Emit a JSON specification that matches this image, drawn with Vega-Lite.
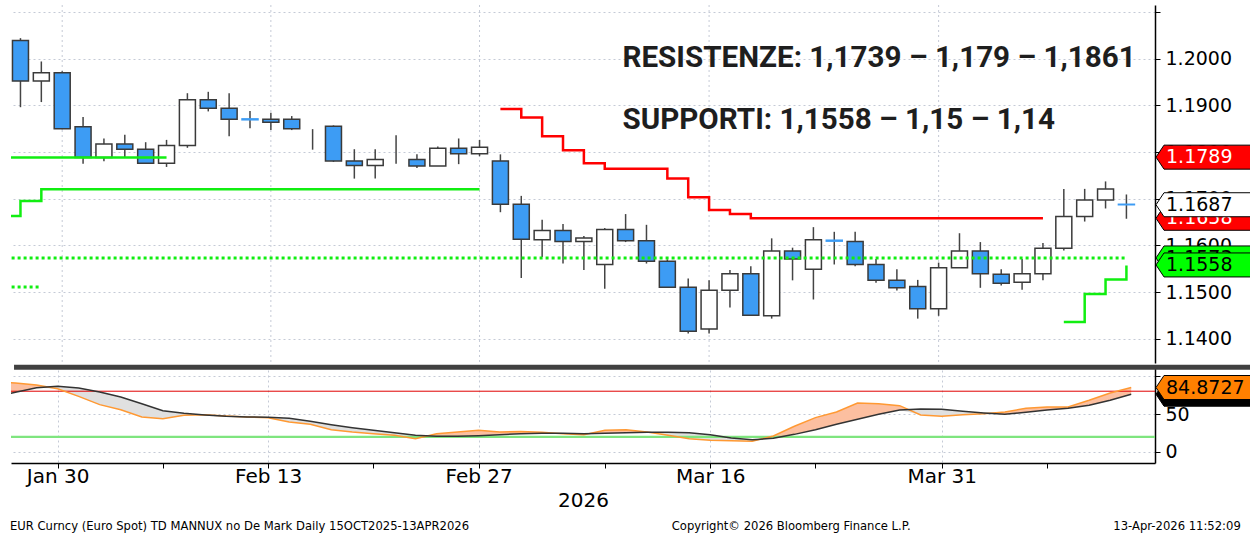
{
  "$schema": "https://vega.github.io/schema/vega-lite/v6.json",
  "background": "white",
  "padding": {"left": 9, "top": 3, "right": 0, "bottom": 0},
  "spacing": 0,
  "resolve": {"scale": {"fill": "independent", "color": "independent", "stroke": "independent"}},
  "config": {"view": {"stroke": null}, "font": "DejaVu Sans"},
  "datasets": {
    "candles": [
      {"d": "2026-01-28", "i": 0, "o": 1.2039, "h": 1.2044, "l": 1.1896, "c": 1.1952},
      {"d": "2026-01-29", "i": 1, "o": 1.1952, "h": 1.1994, "l": 1.1907, "c": 1.1970},
      {"d": "2026-01-30", "i": 2, "o": 1.1970, "h": 1.1973, "l": 1.1849, "c": 1.1850},
      {"d": "2026-02-02", "i": 3, "o": 1.1854, "h": 1.1875, "l": 1.1775, "c": 1.1788},
      {"d": "2026-02-03", "i": 4, "o": 1.1788, "h": 1.1829, "l": 1.1780, "c": 1.1817},
      {"d": "2026-02-04", "i": 5, "o": 1.1817, "h": 1.1837, "l": 1.1789, "c": 1.1806},
      {"d": "2026-02-05", "i": 6, "o": 1.1806, "h": 1.1821, "l": 1.1775, "c": 1.1776},
      {"d": "2026-02-06", "i": 7, "o": 1.1776, "h": 1.1826, "l": 1.1768, "c": 1.1814},
      {"d": "2026-02-09", "i": 8, "o": 1.1814, "h": 1.1926, "l": 1.1809, "c": 1.1912},
      {"d": "2026-02-10", "i": 9, "o": 1.1912, "h": 1.1929, "l": 1.1887, "c": 1.1894},
      {"d": "2026-02-11", "i": 10, "o": 1.1894, "h": 1.1926, "l": 1.1834, "c": 1.1870},
      {"d": "2026-02-12", "i": 11, "o": 1.1871, "h": 1.1888, "l": 1.1851, "c": 1.1869},
      {"d": "2026-02-13", "i": 12, "o": 1.1870, "h": 1.1884, "l": 1.1847, "c": 1.1864},
      {"d": "2026-02-16", "i": 13, "o": 1.1870, "h": 1.1877, "l": 1.1847, "c": 1.1850},
      {"d": "2026-02-17", "i": 14, "o": 1.1806, "h": 1.1849, "l": 1.1805, "c": 1.1806},
      {"d": "2026-02-18", "i": 15, "o": 1.1855, "h": 1.1857, "l": 1.1779, "c": 1.1781},
      {"d": "2026-02-19", "i": 16, "o": 1.1781, "h": 1.1806, "l": 1.1743, "c": 1.1771},
      {"d": "2026-02-20", "i": 17, "o": 1.1771, "h": 1.1806, "l": 1.1743, "c": 1.1784},
      {"d": "2026-02-23", "i": 18, "o": 1.1782, "h": 1.1836, "l": 1.1775, "c": 1.1782},
      {"d": "2026-02-24", "i": 19, "o": 1.1784, "h": 1.1795, "l": 1.1766, "c": 1.1770},
      {"d": "2026-02-25", "i": 20, "o": 1.1770, "h": 1.1812, "l": 1.1770, "c": 1.1808},
      {"d": "2026-02-26", "i": 21, "o": 1.1808, "h": 1.1829, "l": 1.1774, "c": 1.1796},
      {"d": "2026-02-27", "i": 22, "o": 1.1796, "h": 1.1826, "l": 1.1791, "c": 1.1810},
      {"d": "2026-03-02", "i": 23, "o": 1.1781, "h": 1.1795, "l": 1.1671, "c": 1.1688},
      {"d": "2026-03-03", "i": 24, "o": 1.1688, "h": 1.1706, "l": 1.1530, "c": 1.1613},
      {"d": "2026-03-04", "i": 25, "o": 1.1612, "h": 1.1655, "l": 1.1575, "c": 1.1632},
      {"d": "2026-03-05", "i": 26, "o": 1.1632, "h": 1.1646, "l": 1.1561, "c": 1.1608},
      {"d": "2026-03-06", "i": 27, "o": 1.1608, "h": 1.1620, "l": 1.1547, "c": 1.1616},
      {"d": "2026-03-09", "i": 28, "o": 1.1559, "h": 1.1637, "l": 1.1507, "c": 1.1634},
      {"d": "2026-03-10", "i": 29, "o": 1.1634, "h": 1.1667, "l": 1.1607, "c": 1.1610},
      {"d": "2026-03-11", "i": 30, "o": 1.1610, "h": 1.1644, "l": 1.1561, "c": 1.1566},
      {"d": "2026-03-12", "i": 31, "o": 1.1566, "h": 1.1570, "l": 1.1509, "c": 1.1510},
      {"d": "2026-03-13", "i": 32, "o": 1.1510, "h": 1.1529, "l": 1.1411, "c": 1.1416},
      {"d": "2026-03-16", "i": 33, "o": 1.1421, "h": 1.1525, "l": 1.1411, "c": 1.1504},
      {"d": "2026-03-17", "i": 34, "o": 1.1504, "h": 1.1547, "l": 1.1467, "c": 1.1539},
      {"d": "2026-03-18", "i": 35, "o": 1.1539, "h": 1.1555, "l": 1.1449, "c": 1.1450},
      {"d": "2026-03-19", "i": 36, "o": 1.1449, "h": 1.1615, "l": 1.1443, "c": 1.1588},
      {"d": "2026-03-20", "i": 37, "o": 1.1588, "h": 1.1595, "l": 1.1525, "c": 1.1571},
      {"d": "2026-03-23", "i": 38, "o": 1.1549, "h": 1.1639, "l": 1.1484, "c": 1.1612},
      {"d": "2026-03-24", "i": 39, "o": 1.1611, "h": 1.1629, "l": 1.1559, "c": 1.1609},
      {"d": "2026-03-25", "i": 40, "o": 1.1608, "h": 1.1629, "l": 1.1555, "c": 1.1559},
      {"d": "2026-03-26", "i": 41, "o": 1.1559, "h": 1.1571, "l": 1.1520, "c": 1.1525},
      {"d": "2026-03-27", "i": 42, "o": 1.1525, "h": 1.1549, "l": 1.1503, "c": 1.1509},
      {"d": "2026-03-30", "i": 43, "o": 1.1512, "h": 1.1526, "l": 1.1443, "c": 1.1464},
      {"d": "2026-03-31", "i": 44, "o": 1.1464, "h": 1.1563, "l": 1.1449, "c": 1.1552},
      {"d": "2026-04-01", "i": 45, "o": 1.1552, "h": 1.1626, "l": 1.1552, "c": 1.1588},
      {"d": "2026-04-02", "i": 46, "o": 1.1588, "h": 1.1607, "l": 1.1509, "c": 1.1539},
      {"d": "2026-04-03", "i": 47, "o": 1.1538, "h": 1.1549, "l": 1.1514, "c": 1.1519},
      {"d": "2026-04-06", "i": 48, "o": 1.1521, "h": 1.1571, "l": 1.1505, "c": 1.1539},
      {"d": "2026-04-07", "i": 49, "o": 1.1539, "h": 1.1605, "l": 1.1525, "c": 1.1594},
      {"d": "2026-04-08", "i": 50, "o": 1.1594, "h": 1.1721, "l": 1.1589, "c": 1.1662},
      {"d": "2026-04-09", "i": 51, "o": 1.1662, "h": 1.1721, "l": 1.1651, "c": 1.1697},
      {"d": "2026-04-10", "i": 52, "o": 1.1697, "h": 1.1737, "l": 1.1679, "c": 1.1721},
      {"d": "2026-04-13", "i": 53, "o": 1.1688, "h": 1.1709, "l": 1.1657, "c": 1.1687}
    ],
    "levels": [
      {"s": "g1", "i": -1, "p": 1.1788}, {"s": "g1", "i": 7, "p": 1.1788},
      {"s": "g2", "i": -1, "p": 1.1663}, {"s": "g2", "i": 0, "p": 1.1695}, {"s": "g2", "i": 1, "p": 1.1720}, {"s": "g2", "i": 22, "p": 1.1720},
      {"s": "g3", "i": 50, "p": 1.1436}, {"s": "g3", "i": 51, "p": 1.1496}, {"s": "g3", "i": 52, "p": 1.1527}, {"s": "g3", "i": 53, "p": 1.1557},
      {"s": "d1", "i": -1, "p": 1.1573}, {"s": "d1", "i": 53, "p": 1.1573},
      {"s": "d2", "i": -1, "p": 1.1511}, {"s": "d2", "i": 1, "p": 1.1511},
      {"s": "red", "i": 23, "p": 1.1892}, {"s": "red", "i": 24, "p": 1.1874}, {"s": "red", "i": 25, "p": 1.1834},
      {"s": "red", "i": 26, "p": 1.1804}, {"s": "red", "i": 27, "p": 1.1776}, {"s": "red", "i": 28, "p": 1.1764},
      {"s": "red", "i": 31, "p": 1.1743}, {"s": "red", "i": 32, "p": 1.1703}, {"s": "red", "i": 33, "p": 1.1676},
      {"s": "red", "i": 34, "p": 1.1667}, {"s": "red", "i": 35, "p": 1.1658}, {"s": "red", "i": 49, "p": 1.1658}
    ],
    "notes": [
      {"t": "RESISTENZE: 1,1739 – 1,179 – 1,1861", "i": 28.85, "p": 1.1982},
      {"t": "SUPPORTI: 1,1558 – 1,15 – 1,14", "i": 28.85, "p": 1.1850}
    ],
    "vgrid": [{"i": 2}, {"i": 12}, {"i": 22}, {"i": 33}, {"i": 44}],
    "bands": [{"level": 80, "zone": "overbought"}, {"level": 20, "zone": "oversold"}],
    "ptags": [
      {"tag": "1.1658", "p": 1.1658, "s": "res", "z": "back"},
      {"tag": "1.1573", "p": 1.1573, "s": "sup", "z": "back"},
      {"tag": "1.1789", "p": 1.1789, "s": "res", "z": "front"},
      {"tag": "1.1687", "p": 1.1687, "s": "last", "z": "front"},
      {"tag": "1.1558", "p": 1.1558, "s": "sup", "z": "front"}
    ],
    "stags": [
      {"tag": "76.0498", "v": 76.0498, "s": "d", "z": "back"},
      {"tag": "84.8727", "v": 84.8727, "s": "k", "z": "front"}
    ],
    "stoch": [
      {"i": -1, "k": 93, "d": 73}, {"i": 0, "k": 90.8, "d": 78.5}, {"i": 1, "k": 88.2, "d": 84.6},
      {"i": 2, "k": 83.3, "d": 86.4}, {"i": 3, "k": 73.2, "d": 84.2}, {"i": 4, "k": 62.3, "d": 78.9},
      {"i": 5, "k": 55.7, "d": 72.4}, {"i": 6, "k": 46.1, "d": 63.6}, {"i": 7, "k": 43.9, "d": 54.4},
      {"i": 8, "k": 48.2, "d": 50.9}, {"i": 9, "k": 49.1, "d": 48.7}, {"i": 10, "k": 47.4, "d": 46.9},
      {"i": 11, "k": 46.1, "d": 46.1}, {"i": 12, "k": 45.2, "d": 45.6}, {"i": 13, "k": 39.5, "d": 44.3},
      {"i": 14, "k": 36.4, "d": 40.4}, {"i": 15, "k": 29.4, "d": 36.0}, {"i": 16, "k": 26.3, "d": 32.0},
      {"i": 17, "k": 24.1, "d": 28.5}, {"i": 18, "k": 21.9, "d": 25.4}, {"i": 19, "k": 17.5, "d": 21.9},
      {"i": 20, "k": 24.1, "d": 20.6}, {"i": 21, "k": 26.3, "d": 20.6}, {"i": 22, "k": 28.5, "d": 21.5},
      {"i": 23, "k": 26.3, "d": 22.8}, {"i": 24, "k": 26.8, "d": 24.1}, {"i": 25, "k": 25.9, "d": 24.6},
      {"i": 26, "k": 24.1, "d": 24.6}, {"i": 27, "k": 22.8, "d": 24.1}, {"i": 28, "k": 28.5, "d": 24.6},
      {"i": 29, "k": 29.4, "d": 25.4}, {"i": 30, "k": 26.3, "d": 25.9}, {"i": 31, "k": 21.9, "d": 25.9},
      {"i": 32, "k": 17.5, "d": 25.4}, {"i": 33, "k": 15.4, "d": 22.8}, {"i": 34, "k": 14.9, "d": 18.4},
      {"i": 35, "k": 14.0, "d": 16.2}, {"i": 36, "k": 21.1, "d": 18.0}, {"i": 37, "k": 33.8, "d": 23.2},
      {"i": 38, "k": 45.2, "d": 29.4}, {"i": 39, "k": 52.6, "d": 36.4}, {"i": 40, "k": 64.5, "d": 43.0},
      {"i": 41, "k": 63.6, "d": 49.6}, {"i": 42, "k": 61.0, "d": 55.3}, {"i": 43, "k": 48.7, "d": 56.6},
      {"i": 44, "k": 46.9, "d": 56.1}, {"i": 45, "k": 49.1, "d": 53.5}, {"i": 46, "k": 50.4, "d": 51.3},
      {"i": 47, "k": 52.6, "d": 49.6}, {"i": 48, "k": 57.5, "d": 52.2}, {"i": 49, "k": 59.2, "d": 55.3},
      {"i": 50, "k": 59.2, "d": 57.5}, {"i": 51, "k": 68.0, "d": 61.4}, {"i": 52, "k": 77.6, "d": 68.0},
      {"i": 53, "k": 84.8727, "d": 76.0498}
    ]
  },
  "vconcat": [
    {
      "width": 1144,
      "height": 358,
      "layer": [
        {
          "data": {"name": "vgrid"},
          "mark": {"type": "rule", "color": "#c5cad6", "strokeWidth": 1, "strokeDash": [2, 3]},
          "encoding": {
            "x": {
              "field": "i", "type": "quantitative",
              "scale": {"domain": [-0.214, 54.13], "nice": false, "zero": false},
              "axis": null
            }
          }
        },
        {
          "data": {"name": "candles"},
          "mark": {"type": "rule", "color": "#444444", "strokeWidth": 1.5, "clip": true},
          "encoding": {
            "x": {"field": "i", "type": "quantitative"},
            "y": {
              "field": "l", "type": "quantitative",
              "scale": {"domain": [1.13479, 1.2115], "nice": false, "zero": false},
              "axis": {
                "orient": "right", "title": null,
                "values": [1.14, 1.15, 1.16, 1.17, 1.18, 1.19, 1.2, 1.21],
                "format": ".4f",
                "labelExpr": "datum.value > 1.205 ? '' : datum.label",
                "grid": true, "gridColor": "#c5cad6", "gridDash": [2, 3],
                "domainColor": "#000000", "domainWidth": 1.5, "tickColor": "#000000", "tickSize": 5,
                "labelFontSize": 19, "labelColor": "#000000", "labelPadding": 5, "labelOverlap": false, "labelBound": false
              }
            },
            "y2": {"field": "h"}
          }
        },
        {
          "data": {"name": "candles"},
          "mark": {"type": "bar", "width": 16, "strokeWidth": 1.5, "clip": true},
          "encoding": {
            "x": {"field": "i", "type": "quantitative"},
            "y": {"field": "o", "type": "quantitative"},
            "y2": {"field": "c"},
            "fill": {"condition": {"test": "datum.o > datum.c", "value": "#3d9cf4"}, "value": "#ffffff"},
            "stroke": {"condition": [{"test": "datum.o == datum.c", "value": "rgba(0,0,0,0)"}, {"test": "abs(datum.o - datum.c) < 0.0004", "value": "#3d9cf4"}], "value": "#3a3a3a"}
          }
        },
        {
          "data": {"name": "levels"},
          "transform": [{"filter": "datum.s == 'd1' || datum.s == 'd2'"}],
          "mark": {"type": "line", "color": "#11ee11", "strokeWidth": 3, "strokeDash": [3, 3], "interpolate": "step-after", "clip": true},
          "encoding": {"x": {"field": "i", "type": "quantitative"}, "y": {"field": "p", "type": "quantitative"}, "detail": {"field": "s"}}
        },
        {
          "data": {"name": "levels"},
          "transform": [{"filter": "datum.s == 'g1' || datum.s == 'g2' || datum.s == 'g3'"}],
          "mark": {"type": "line", "color": "#11ee11", "strokeWidth": 2.5, "interpolate": "step-after", "clip": true},
          "encoding": {"x": {"field": "i", "type": "quantitative"}, "y": {"field": "p", "type": "quantitative"}, "detail": {"field": "s"}}
        },
        {
          "data": {"name": "levels"},
          "transform": [{"filter": "datum.s == 'red'"}],
          "mark": {"type": "line", "color": "#ff0000", "strokeWidth": 2.5, "interpolate": "step-after", "clip": true},
          "encoding": {"x": {"field": "i", "type": "quantitative"}, "y": {"field": "p", "type": "quantitative"}}
        },
        {
          "data": {"name": "notes"},
          "mark": {"type": "text", "align": "left", "baseline": "alphabetic", "font": "Roboto", "fontWeight": "bold", "fontSize": 29.6, "color": "#1e1e1e"},
          "encoding": {"x": {"field": "i", "type": "quantitative"}, "y": {"field": "p", "type": "quantitative"}, "text": {"field": "t"}}
        },
        {
          "data": {"name": "ptags"},
          "transform": [{"filter": "datum.z == 'back'"}],
          "layer": [
            {
              "mark": {"type": "point", "shape": "M0,0L0.16,-0.24L2,-0.24L2,0.24L0.16,0.24Z", "size": 10000, "filled": true, "opacity": 1, "stroke": "#000000", "strokeWidth": 1, "xOffset": 1},
              "encoding": {
                "x": {"value": "width"},
                "y": {"field": "p", "type": "quantitative"},
                "fill": {"field": "s", "type": "nominal", "scale": {"domain": ["res", "last", "sup"], "range": ["#ff0000", "#ffffff", "#00ff00"]}, "legend": null}
              }
            },
            {
              "mark": {"type": "text", "align": "left", "baseline": "middle", "dx": 11, "fontSize": 19, "font": "DejaVu Sans"},
              "encoding": {
                "x": {"value": "width"},
                "y": {"field": "p", "type": "quantitative"},
                "text": {"field": "tag"},
                "color": {"field": "s", "type": "nominal", "scale": {"domain": ["res", "last", "sup"], "range": ["#ffffff", "#000000", "#000000"]}, "legend": null}
              }
            }
          ]
        },
        {
          "data": {"name": "ptags"},
          "transform": [{"filter": "datum.z == 'front'"}],
          "layer": [
            {
              "mark": {"type": "point", "shape": "M0,0L0.16,-0.24L2,-0.24L2,0.24L0.16,0.24Z", "size": 10000, "filled": true, "opacity": 1, "stroke": "#000000", "strokeWidth": 1, "xOffset": 1},
              "encoding": {
                "x": {"value": "width"},
                "y": {"field": "p", "type": "quantitative"},
                "fill": {"field": "s", "type": "nominal", "scale": {"domain": ["res", "last", "sup"], "range": ["#ff0000", "#ffffff", "#00ff00"]}, "legend": null}
              }
            },
            {
              "mark": {"type": "text", "align": "left", "baseline": "middle", "dx": 11, "fontSize": 19, "font": "DejaVu Sans"},
              "encoding": {
                "x": {"value": "width"},
                "y": {"field": "p", "type": "quantitative"},
                "text": {"field": "tag"},
                "color": {"field": "s", "type": "nominal", "scale": {"domain": ["res", "last", "sup"], "range": ["#ffffff", "#000000", "#000000"]}, "legend": null}
              }
            }
          ]
        }
      ]
    },
    {
      "width": 1144,
      "height": 98,
      "title": {
        "text": "EUR Curncy (Euro Spot) TD MANNUX no De Mark Daily 15OCT2025-13APR2026\u00a0\u00a0\u00a0\u00a0\u00a0\u00a0\u00a0\u00a0\u00a0\u00a0\u00a0\u00a0\u00a0\u00a0\u00a0\u00a0\u00a0\u00a0\u00a0\u00a0\u00a0\u00a0\u00a0\u00a0\u00a0\u00a0\u00a0\u00a0\u00a0\u00a0\u00a0\u00a0\u00a0\u00a0\u00a0\u00a0\u00a0\u00a0\u00a0\u00a0\u00a0\u00a0\u00a0\u00a0\u00a0\u00a0\u00a0\u00a0\u00a0\u00a0\u00a0\u00a0\u00a0\u00a0\u00a0Copyright© 2026 Bloomberg Finance L.P.\u00a0\u00a0\u00a0\u00a0\u00a0\u00a0\u00a0\u00a0\u00a0\u00a0\u00a0\u00a0\u00a0\u00a0\u00a0\u00a0\u00a0\u00a0\u00a0\u00a0\u00a0\u00a0\u00a0\u00a0\u00a0\u00a0\u00a0\u00a0\u00a0\u00a0\u00a0\u00a0\u00a0\u00a0\u00a0\u00a0\u00a0\u00a0\u00a0\u00a0\u00a0\u00a0\u00a0\u00a0\u00a0\u00a0\u00a0\u00a0\u00a0\u00a0\u00a0\u00a0\u00a0\u00a0\u00a013-Apr-2026 11:52:09",
        "orient": "bottom", "anchor": "start", "font": "DejaVu Sans", "fontSize": 11.6, "fontWeight": "normal", "color": "#000000", "offset": 11, "limit": 3000
      },
      "layer": [
        {
          "data": {"name": "stoch"},
          "mark": {"type": "area", "color": "#fcbfa0", "opacity": 1, "clip": true},
          "encoding": {
            "x": {
              "field": "i", "type": "quantitative",
              "scale": {"domain": [-0.214, 54.13], "nice": false, "zero": false},
              "axis": {
                "orient": "bottom", "values": [2, 7, 12, 17, 22, 28, 33, 38, 44, 49],
                "labelExpr": "datum.value==2?'Jan 30':datum.value==12?'Feb 13':datum.value==22?'Feb 27':datum.value==33?'Mar 16':datum.value==44?'Mar 31':''",
                "grid": true, "gridColor": "#c5cad6", "gridDash": [2, 3],
                "gridOpacity": {"condition": {"test": "datum.value==2||datum.value==12||datum.value==22||datum.value==33||datum.value==44", "value": 1}, "value": 0},
                "tickSize": 5, "tickColor": "#000000", "domainColor": "#000000", "domainWidth": 1.5,
                "labelFontSize": 20, "labelColor": "#000000", "labelPadding": -2, "labelOverlap": false, "labelBound": false, "labelFlush": false,
                "title": "2026", "titleFontSize": 20, "titleFontWeight": "normal", "titleColor": "#000000", "titlePadding": 4
              }
            },
            "y": {
              "field": "k", "type": "quantitative",
              "scale": {"domain": [-14.5, 114.5], "nice": false, "zero": false},
              "axis": {
                "orient": "right", "title": null, "values": [0, 50, 100],
                "labelExpr": "datum.value == 100 ? '' : datum.label",
                "grid": true, "gridColor": "#c5cad6", "gridDash": [2, 3],
                "domainColor": "#000000", "domainWidth": 1.5, "tickColor": "#000000", "tickSize": 5,
                "labelFontSize": 19, "labelColor": "#000000", "labelPadding": 5, "labelOverlap": false, "labelBound": false
              }
            },
            "y2": {"field": "d"}
          }
        },
        {
          "data": {"name": "stoch"},
          "transform": [
            {"fold": ["k", "d"], "as": ["key", "val"]},
            {"joinaggregate": [{"op": "min", "field": "val", "as": "lo"}], "groupby": ["i"]},
            {"filter": "datum.key == 'k'"}
          ],
          "mark": {"type": "area", "color": "#e0e0e0", "opacity": 1, "clip": true},
          "encoding": {
            "x": {"field": "i", "type": "quantitative"},
            "y": {"field": "d", "type": "quantitative"},
            "y2": {"field": "lo"}
          }
        },
        {
          "data": {"name": "bands"},
          "mark": {"type": "rule"},
          "encoding": {
            "y": {"field": "level", "type": "quantitative"},
            "stroke": {"field": "zone", "type": "nominal", "scale": {"domain": ["overbought", "oversold"], "range": ["#e00000", "#7fe57f"]}, "legend": null},
            "strokeWidth": {"field": "zone", "type": "nominal", "scale": {"domain": ["overbought", "oversold"], "range": [1, 2.2]}, "legend": null}
          }
        },
        {
          "data": {"name": "stoch"},
          "mark": {"type": "line", "color": "#ff9933", "strokeWidth": 1.5, "clip": true},
          "encoding": {"x": {"field": "i", "type": "quantitative"}, "y": {"field": "k", "type": "quantitative"}}
        },
        {
          "data": {"name": "stoch"},
          "mark": {"type": "line", "color": "#333333", "strokeWidth": 1.5, "clip": true},
          "encoding": {"x": {"field": "i", "type": "quantitative"}, "y": {"field": "d", "type": "quantitative"}}
        },
        {
          "data": {"values": [{"edge": "panel divider"}]},
          "mark": {"type": "rule", "color": "#404040", "strokeWidth": 5, "strokeCap": "butt"},
          "encoding": {"y": {"datum": 111.5}, "x": {"datum": -0.07}, "x2": {"datum": 60}}
        },
        {
          "data": {"name": "stags"},
          "transform": [{"filter": "datum.z == 'back'"}],
          "layer": [
            {
              "mark": {"type": "point", "shape": "M0,0L0.16,-0.24L2,-0.24L2,0.24L0.16,0.24Z", "size": 10000, "filled": true, "opacity": 1, "stroke": "#000000", "strokeWidth": 1, "xOffset": 1},
              "encoding": {
                "x": {"value": "width"},
                "y": {"field": "v", "type": "quantitative"},
                "fill": {"field": "s", "type": "nominal", "scale": {"domain": ["k", "d"], "range": ["#ff8000", "#000000"]}, "legend": null}
              }
            },
            {
              "mark": {"type": "text", "align": "left", "baseline": "middle", "dx": 11, "fontSize": 19, "font": "DejaVu Sans"},
              "encoding": {
                "x": {"value": "width"},
                "y": {"field": "v", "type": "quantitative"},
                "text": {"field": "tag"},
                "color": {"field": "s", "type": "nominal", "scale": {"domain": ["k", "d"], "range": ["#000000", "#ffffff"]}, "legend": null}
              }
            }
          ]
        },
        {
          "data": {"name": "stags"},
          "transform": [{"filter": "datum.z == 'front'"}],
          "layer": [
            {
              "mark": {"type": "point", "shape": "M0,0L0.16,-0.24L2,-0.24L2,0.24L0.16,0.24Z", "size": 10000, "filled": true, "opacity": 1, "stroke": "#000000", "strokeWidth": 1, "xOffset": 1},
              "encoding": {
                "x": {"value": "width"},
                "y": {"field": "v", "type": "quantitative"},
                "fill": {"field": "s", "type": "nominal", "scale": {"domain": ["k", "d"], "range": ["#ff8000", "#000000"]}, "legend": null}
              }
            },
            {
              "mark": {"type": "text", "align": "left", "baseline": "middle", "dx": 11, "fontSize": 19, "font": "DejaVu Sans"},
              "encoding": {
                "x": {"value": "width"},
                "y": {"field": "v", "type": "quantitative"},
                "text": {"field": "tag"},
                "color": {"field": "s", "type": "nominal", "scale": {"domain": ["k", "d"], "range": ["#000000", "#ffffff"]}, "legend": null}
              }
            }
          ]
        }
      ]
    }
  ]
}
